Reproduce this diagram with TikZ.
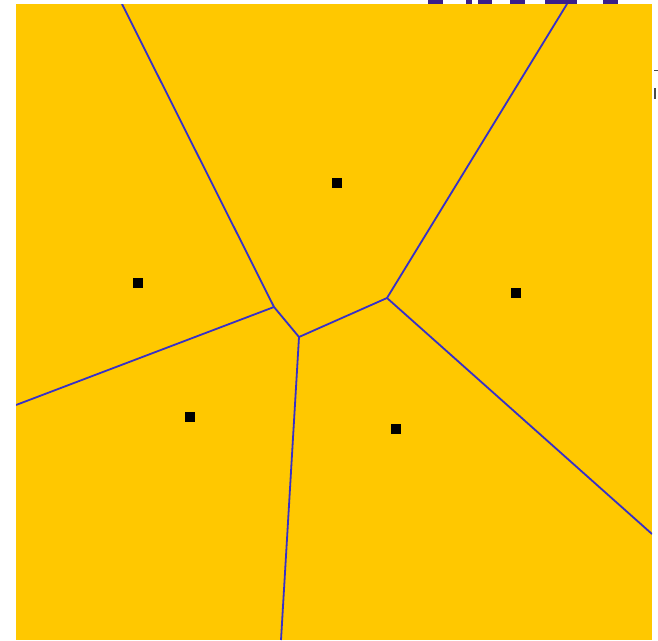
\documentclass[tikz,border=0pt]{standalone}
\begin{document}
\begin{tikzpicture}[x=1pt,y=-1pt,
  site/.style={fill=black,minimum size=10pt,inner sep=0pt,draw=none},
  edge/.style={draw={rgb,255:red,55;green,48;blue,200},line width=1.8pt},
  frag/.style={fill={rgb,255:red,58;green,31;blue,138}}]
\useasboundingbox (0,0) rectangle (658,640);
\fill[white] (0,0) rectangle (658,640);
% purple fragments of clipped title
\fill[frag] (428,0) rectangle (443,5);
\fill[frag] (466,0) rectangle (472,5);
\fill[frag] (478,0) rectangle (492,5);
\fill[frag] (510,0) rectangle (525,5);
\fill[frag] (545,0) rectangle (577,5);
\fill[frag] (603,0) rectangle (618,5);
% background
\fill[fill={rgb,255:red,255;green,200;blue,0}] (16,4) rectangle (652,640);
% vertices
\coordinate (A) at (274,307);
\coordinate (B) at (387,298);
\coordinate (C) at (299,337);
\coordinate (tl) at (122,4);
\coordinate (tr) at (567,4);
\coordinate (le) at (16,405);
\coordinate (bo) at (281,640);
\coordinate (re) at (652,534);
\begin{scope}
\clip (16,4) rectangle (652,640);
\draw[edge] (tl) -- (A);
\draw[edge] (tr) -- (B);
\draw[edge] (A) -- (C);
\draw[edge] (C) -- (B);
\draw[edge] (A) -- (le);
\draw[edge] (C) -- (bo);
\draw[edge] (B) -- (re);
\end{scope}
% sites
\node[site] (s1) at (337,183) {};
\node[site] (s2) at (138,283) {};
\node[site] (s3) at (516,293) {};
\node[site] (s4) at (190,417) {};
\node[site] (s5) at (396,429) {};
% right-edge text fragments
\fill[black!70] (654,70) rectangle (658,71);
\fill[black!70] (654,88) rectangle (656,99);
\end{tikzpicture}
\end{document}
